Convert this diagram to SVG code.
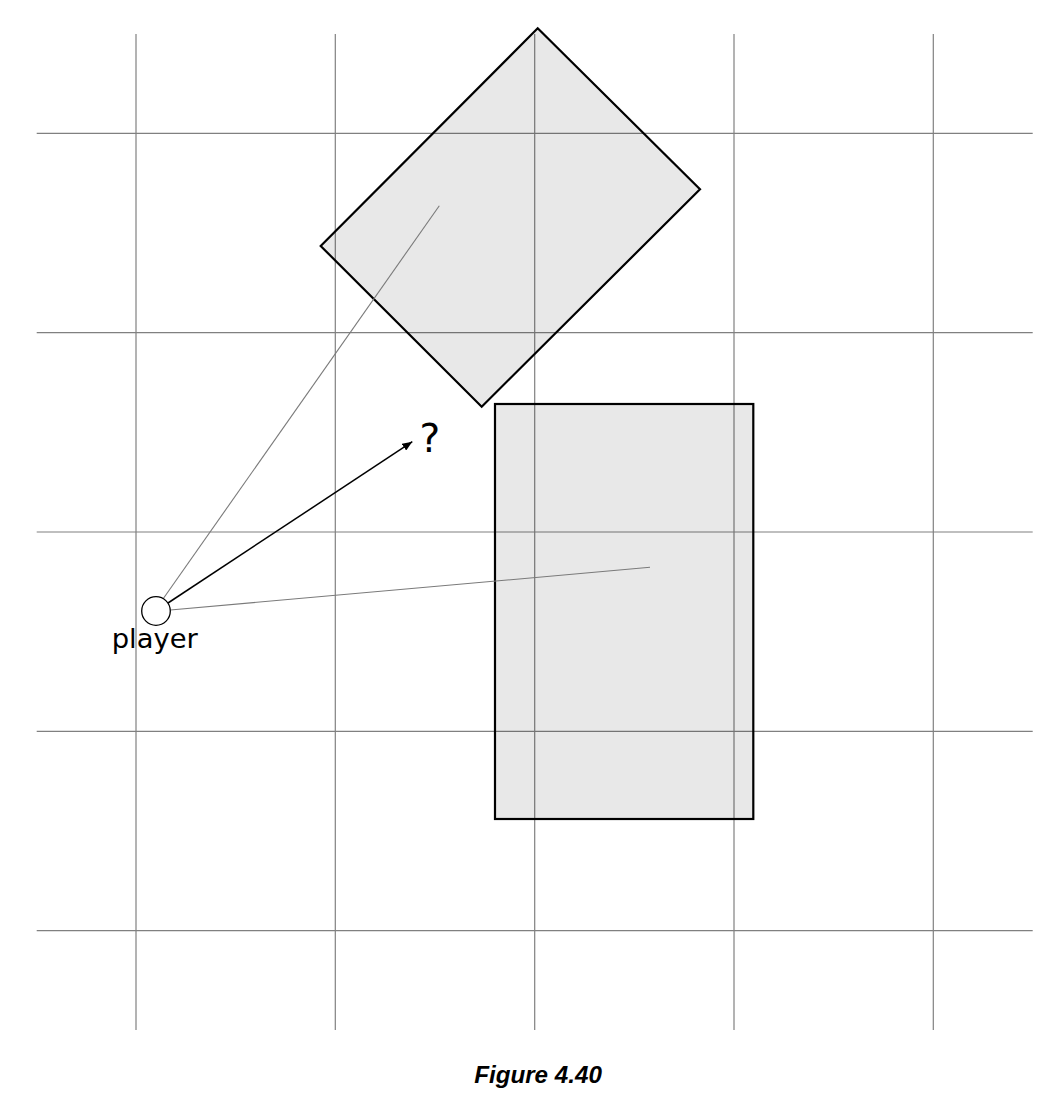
<svg xmlns="http://www.w3.org/2000/svg" width="1047" height="1095" viewBox="0 0 1047 1095">
  <style>
    .grid line { stroke: #808080; stroke-width: 1.2; }
    .shape { fill: #000; fill-opacity: 0.09; stroke: #000; stroke-width: 2.2; stroke-linejoin: miter; }
    .ray { stroke: #7a7a7a; stroke-width: 1.1; fill: none; }
    .arrow { stroke: #000; stroke-width: 1.5; fill: none; }
    .lbl { font-family: "DejaVu Sans", sans-serif; fill: #000; }
    .cap { font-family: "Liberation Sans", Arial, sans-serif; font-weight: bold; font-style: italic; font-size: 24.2px; fill: #000; }
  </style>
  <defs>
    <marker id="ah" viewBox="0 0 10 10" refX="10" refY="5" markerWidth="10" markerHeight="8" markerUnits="userSpaceOnUse" orient="auto" preserveAspectRatio="none">
      <path d="M0,0 L10,5 L0,10 z" fill="#000"/>
    </marker>
  </defs>
  <rect width="1047" height="1095" fill="#fff"/>
  <g id="grid" class="grid">
    <line x1="136" y1="34" x2="136" y2="1030"/>
    <line x1="335.3" y1="34" x2="335.3" y2="1030"/>
    <line x1="534.7" y1="34" x2="534.7" y2="1030"/>
    <line x1="734" y1="34" x2="734" y2="1030"/>
    <line x1="933.3" y1="34" x2="933.3" y2="1030"/>
    <line x1="36.7" y1="133.3" x2="1032.7" y2="133.3"/>
    <line x1="36.7" y1="332.6" x2="1032.7" y2="332.6"/>
    <line x1="36.7" y1="532" x2="1032.7" y2="532"/>
    <line x1="36.7" y1="731.3" x2="1032.7" y2="731.3"/>
    <line x1="36.7" y1="930.7" x2="1032.7" y2="930.7"/>
  </g>
  <g id="rotated-box">
    <polygon class="shape" points="537.7,28.3 700,189.3 481.7,406.7 320.7,246"/>
  </g>
  <g id="box">
    <rect class="shape" x="495" y="404" width="258.3" height="415"/>
  </g>
  <g id="connectors">
    <line class="ray" x1="163" y1="599" x2="439.3" y2="205.7"/>
    <line class="ray" x1="170.3" y1="610" x2="650" y2="567.3"/>
    <line class="arrow" x1="168" y1="603" x2="412.3" y2="441.7" marker-end="url(#ah)"/>
  </g>
  <g id="player">
    <circle cx="156" cy="611" r="14.3" fill="#fff" stroke="#000" stroke-width="1.3"/>
    <text class="lbl" x="154.7" y="647.7" font-size="27.4" text-anchor="middle">player</text>
  </g>
  <g id="question">
    <text class="lbl" x="419.5" y="451.7" font-size="39">?</text>
  </g>
  <text class="cap" x="538" y="1083" text-anchor="middle">Figure 4.40</text>
</svg>
